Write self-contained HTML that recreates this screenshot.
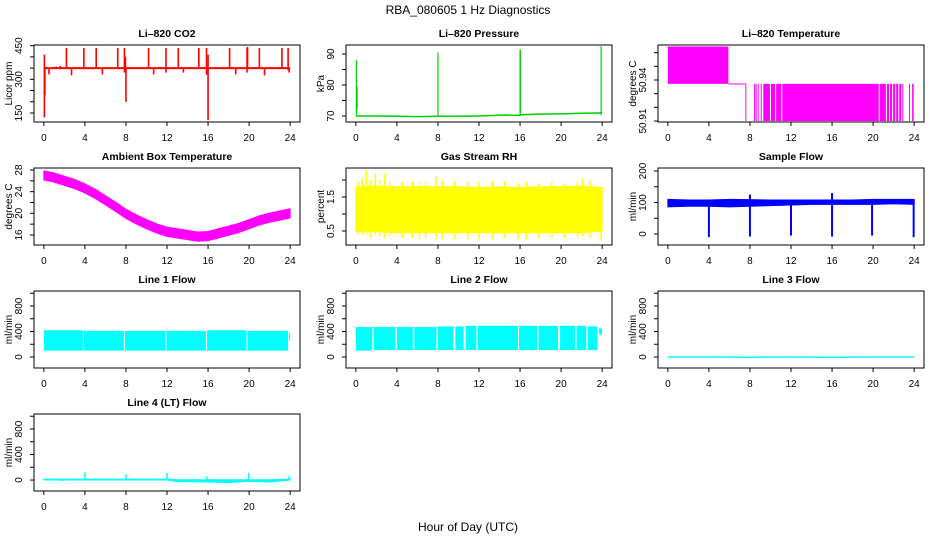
<!DOCTYPE html>
<html><head><meta charset="utf-8"><style>
html,body{margin:0;padding:0;background:#fff}
svg{display:block;font-family:"Liberation Sans",sans-serif}
</style></head><body>
<svg id="chart" width="936" height="540" viewBox="0 0 936 540" xmlns="http://www.w3.org/2000/svg">
<rect width="936" height="540" fill="#fff"/>
<text x="468" y="14" text-anchor="middle" font-size="12">RBA_080605  1 Hz Diagnostics</text>
<text x="468" y="531" text-anchor="middle" font-size="12">Hour of Day (UTC)</text>
</svg>
<script>
// ---- data ----
const xTicks = [0,4,8,12,16,20,24];
// CO2
const co2Base = 350;
const co2SpikeHours = [0.05,0.1,0.5,1.2,1.6,2.2,2.7,3.9,5.1,5.7,7.2,7.85,7.95,8.0,10.2,10.7,11.9,13.1,13.6,15.1,15.85,16.0,18.1,18.7,19.8,19.85,21.0,21.5,23.2,23.8,23.9];
const co2SpikeLow  = [130,230,322,350,350,350,318,345,350,322,350,330,330,200,350,322,330,350,330,350,320,118,350,322,330,350,350,318,350,340,330];
const co2SpikeHigh = [410,350,350,357,360,440,350,440,440,350,440,440,400,350,440,350,440,440,350,440,440,410,440,350,440,445,440,350,440,440,352];
// Pressure
const presHours = [0,2,4,6,8,10,12,14.5,15.9,16.1,18,20,22,24];
const presVals  = [70,70,69.9,69.8,69.9,69.9,70,70.3,70.2,70.4,70.6,70.7,70.9,71];
const presSpikeHours = [0.05,0.12,8.0,16.0,16.03,23.9];
const presSpikeLow  = [70,72,70,70,70,70.3];
const presSpikeHigh = [88,79.5,90.5,91.5,91.2,92.5];
// Li-820 Temperature blocks
const tempStart = [0,5.9,7.55,8.4,8.55,8.75,9.05,9.3,10.05,10.55,11.15,20.65,21.35,21.65,21.95,22.25,22.55,22.85,23.5,23.8];
const tempEnd   = [5.9,7.6,7.6,8.45,8.6,8.8,9.1,9.95,10.45,11.05,20.55,21.25,21.55,21.85,22.15,22.45,22.75,22.95,23.6,23.95];
const tempLow   = [50.9372,50.9368,50.91,50.91,50.91,50.91,50.91,50.91,50.91,50.91,50.91,50.91,50.91,50.91,50.91,50.91,50.91,50.91,50.91,50.91];
const tempHigh  = [50.9645,50.9375,50.9372,50.9372,50.9372,50.9372,50.9372,50.9372,50.9372,50.9372,50.9372,50.9372,50.9372,50.9372,50.9372,50.9372,50.9372,50.9372,50.9372,50.9372];
// Ambient box temperature
const ambHours = [0,1,2,3,4,5,6,7,8,9,10,11,12,13,14,15,16,17,18,19,20,21,22,23,24];
const ambMean  = [27,26.6,26,25.4,24.6,23.6,22.4,21.2,19.9,18.9,18,17.2,16.6,16.3,16,15.7,15.8,16.3,16.8,17.3,18,18.7,19.2,19.6,20];
const ambSpread = 0.85;
// Gas stream RH
const rhHours = [0,2,4,6,8,10,12,14,16,18,20,22,24];
const rhUpper = [1.8,1.82,1.8,1.8,1.8,1.8,1.78,1.8,1.78,1.8,1.8,1.82,1.78];
const rhLower = [0.5,0.48,0.45,0.45,0.45,0.45,0.45,0.45,0.45,0.45,0.45,0.45,0.5];
const rhSpikeHours = [0.2,0.6,1.0,1.4,1.9,2.3,2.8,3.3,4.5,5.5,6.2,6.8,7.8,8.4,9.6,10.9,12.0,13.3,14.5,15.8,16.6,17.8,19.1,20.3,21.6,22.1,22.8,23.9];
const rhSpikeTop = [1.95,2.05,2.3,2.0,2.2,2.0,2.2,1.95,1.95,1.95,1.95,1.95,2.1,2.0,1.95,1.95,1.95,1.95,1.95,1.9,1.95,1.9,1.95,1.9,1.95,2.05,2.0,1.8];
const rhSpikeBot = [0.4,0.4,0.4,0.3,0.4,0.35,0.3,0.35,0.3,0.3,0.25,0.3,0.25,0.25,0.25,0.25,0.25,0.25,0.3,0.25,0.25,0.3,0.3,0.3,0.3,0.35,0.3,0.2];
// Sample flow
const sampleHours = [0,2,4,6,8,10,12,14,16,18,20,22,24];
const sampleUpper = [110,108,108,110,109,108,108,108,108,108,110,110,110];
const sampleLower = [86,88,88,86,88,90,92,94,94,94,94,96,94];
const sampleDipHours = [4,8,12,16,19.9,23.95];
const sampleDipLow  = [-10,-8,-5,-8,-5,-10];
const sampleDipHigh = [100,125,105,130,110,105];
// Line 1 flow blocks
const l1Start = [0,3.9,7.9,11.95,15.9,19.85,23.9];
const l1End   = [3.8,7.8,11.85,15.8,19.75,23.8,24];
const l1Low   = [100,100,100,100,100,100,250];
const l1High  = [420,410,410,410,420,410,380];
// Line 2 flow blocks
const l2Start = [0,1.75,4.0,5.7,8.0,9.7,10.7,11.9,15.9,17.8,19.9,21.5,22.6,23.7];
const l2End   = [1.6,3.85,5.55,7.85,9.5,10.5,11.75,15.8,17.65,19.7,21.35,22.45,23.55,24];
const l2Low   = [100,110,110,110,110,110,110,110,110,110,110,110,110,350];
const l2High  = [470,470,470,470,480,480,490,490,490,490,490,490,480,450];
// Line 3 flow
const l3Hours = [0,4,8,12,16,20,24];
const l3Vals  = [0,0,-3,0,-3,0,0];
// Line 4 flow
const l4Hours = [0,4,8,12,13,16,18,20,22,24];
const l4Upper = [15,15,15,15,5,5,5,5,5,15];
const l4Lower = [0,0,0,0,-25,-30,-40,-20,-30,0];
const l4SpikeHours = [1.8,4.0,8.0,12.0,15.9,19.95,23.9];
const l4SpikeLow  = [-20,0,0,0,-20,-10,0];
const l4SpikeHigh = [0,120,90,110,60,110,70];

// ---- layout ----
const NS = "http://www.w3.org/2000/svg";
const svg = document.getElementById('chart');
const colX = [34,346,658], W = 266, H = 77;
function rowY(r){ return 45 + 123*r; }

function mk(tag, name, parent){
  const e = document.createElementNS(NS, tag);
  
  
  (parent || svg).appendChild(e);
  return e;
}

function panel(cfg){
  const x0 = colX[cfg.col], y0 = rowY(cfg.row);
  const g = mk('g', cfg.id + '-panel');
  const xs = h => x0 + (h + 0.96) / 25.92 * W;
  const ys = v => y0 + (cfg.ymax - v) / (cfg.ymax - cfg.ymin) * H;
  const clipId = 'clip-' + cfg.id;
  const cp = mk('clipPath', cfg.id + '-clip', g);
  cp.setAttribute('id', clipId);
  const cr = mk('rect', cfg.id + '-clip-rect', cp);
  cr.setAttribute('x', x0); cr.setAttribute('y', y0); cr.setAttribute('width', W); cr.setAttribute('height', H);
  const plot = mk('g', cfg.id + '-plot-area', g);
  plot.setAttribute('clip-path', 'url(#' + clipId + ')');
  const t = mk('text', cfg.id + '-title', g);
  t.setAttribute('x', x0 + W/2); t.setAttribute('y', y0 - 8);
  t.setAttribute('text-anchor', 'middle'); t.setAttribute('font-size', '10.5'); t.setAttribute('font-weight', 'bold');
  t.textContent = cfg.title;
  const yl = mk('text', cfg.id + '-y-axis-title', g);
  yl.setAttribute('transform', 'translate(' + (x0 - 22) + ',' + (y0 + H/2) + ') rotate(-90)');
  yl.setAttribute('text-anchor', 'middle'); yl.setAttribute('font-size', '10');
  yl.textContent = cfg.ylab;
  xTicks.forEach(h => {
    const l = mk('line', cfg.id + '-x-tick', g);
    l.setAttribute('x1', xs(h)); l.setAttribute('x2', xs(h));
    l.setAttribute('y1', y0 + H); l.setAttribute('y2', y0 + H + 4); l.setAttribute('stroke', '#000');
    const tx = mk('text', cfg.id + '-x-tick-label', g);
    tx.setAttribute('x', xs(h)); tx.setAttribute('y', y0 + H + 19);
    tx.setAttribute('text-anchor', 'middle'); tx.setAttribute('font-size', '10');
    tx.textContent = h;
  });
  cfg.yticks.forEach(v => {
    const l = mk('line', cfg.id + '-y-tick', g);
    l.setAttribute('x1', x0 - 4); l.setAttribute('x2', x0);
    l.setAttribute('y1', ys(v)); l.setAttribute('y2', ys(v)); l.setAttribute('stroke', '#000');
  });
  cfg.ylabels.forEach(v => {
    const tx = mk('text', cfg.id + '-y-tick-label', g);
    tx.setAttribute('transform', 'translate(' + (x0 - 12) + ',' + ys(v) + ') rotate(-90)');
    tx.setAttribute('text-anchor', 'middle'); tx.setAttribute('font-size', '10');
    tx.textContent = v;
  });
  cfg.draw(plot, xs, ys);
  const box = mk('rect', cfg.id + '-plot-frame', g);
  box.setAttribute('x', x0); box.setAttribute('y', y0); box.setAttribute('width', W); box.setAttribute('height', H);
  box.setAttribute('fill', 'none'); box.setAttribute('stroke', '#000');
}

function vseg(p, name, x, ya, yb, color, w){
  const l = mk('line', name, p);
  l.setAttribute('x1', x); l.setAttribute('x2', x);
  l.setAttribute('y1', ya); l.setAttribute('y2', yb);
  l.setAttribute('stroke', color); l.setAttribute('stroke-width', w);
}
function block(p, name, xa, xb, ya, yb, color){
  const r = mk('rect', name, p);
  r.setAttribute('x', Math.min(xa, xb)); r.setAttribute('width', Math.max(1, Math.abs(xb - xa)));
  r.setAttribute('y', Math.min(ya, yb)); r.setAttribute('height', Math.max(1, Math.abs(yb - ya)));
  r.setAttribute('fill', color);
}
function band(p, name, hours, up, lo, xs, ys, color){
  const pts = hours.map((h,i) => xs(h) + ',' + ys(up[i]))
    .concat(hours.slice().reverse().map((h,i) => xs(h) + ',' + ys(lo[hours.length-1-i])));
  const pg = mk('polygon', name, p);
  pg.setAttribute('points', pts.join(' '));
  pg.setAttribute('fill', color); pg.setAttribute('stroke', color);
}

panel({id:'co2', col:0, row:0, title:'Li\u2013820 CO2', ylab:'Licor ppm', ymin:110, ymax:453,
  yticks:[150,200,250,300,350,400,450], ylabels:[150,300,450],
  draw:(p,xs,ys)=>{
    const l = mk('line', 'co2-baseline', p);
    l.setAttribute('x1', xs(0.1)); l.setAttribute('x2', xs(24)); l.setAttribute('y1', ys(co2Base)); l.setAttribute('y2', ys(co2Base));
    l.setAttribute('stroke', '#ff0000'); l.setAttribute('stroke-width', 2);
    co2SpikeHours.forEach((h,i) => vseg(p, 'co2-spike', xs(h), ys(co2SpikeLow[i]), ys(co2SpikeHigh[i]), '#ff0000', 1.6));
  }});

panel({id:'pressure', col:1, row:0, title:'Li\u2013820 Pressure', ylab:'kPa', ymin:68.06, ymax:92.9,
  yticks:[70,75,80,85,90], ylabels:[70,80,90],
  draw:(p,xs,ys)=>{
    const pl = mk('polyline', 'pressure-line', p);
    pl.setAttribute('points', presHours.map((h,i) => xs(h) + ',' + ys(presVals[i])).join(' '));
    pl.setAttribute('fill', 'none'); pl.setAttribute('stroke', '#00d000'); pl.setAttribute('stroke-width', 1.5);
    presSpikeHours.forEach((h,i) => vseg(p, 'pressure-spike', xs(h), ys(presSpikeLow[i]), ys(presSpikeHigh[i]), '#00d000', 1.2));
  }});

panel({id:'li820-temp', col:2, row:0, title:'Li\u2013820 Temperature', ylab:'degrees C', ymin:50.9093, ymax:50.9656,
  yticks:[50.91,50.92,50.93,50.94,50.95,50.96], ylabels:['50.91','50.94'],
  draw:(p,xs,ys)=>{
    tempStart.forEach((s,i) => block(p, 'temp-block', xs(s), xs(tempEnd[i]), ys(tempLow[i]), ys(tempHigh[i]), '#ff00ff'));
  }});

panel({id:'ambient', col:0, row:1, title:'Ambient Box Temperature', ylab:'degrees C', ymin:14.15, ymax:28.37,
  yticks:[16,18,20,22,24,26,28], ylabels:[16,20,24,28],
  draw:(p,xs,ys)=>{
    band(p, 'ambient-band', ambHours, ambMean.map(v => v + ambSpread), ambMean.map(v => v - ambSpread), xs, ys, '#ff00ff');
  }});

panel({id:'rh', col:1, row:1, title:'Gas Stream RH', ylab:'percent', ymin:0.088, ymax:2.353,
  yticks:[0.5,1,1.5,2], ylabels:['0.5','1.5'],
  draw:(p,xs,ys)=>{
    band(p, 'rh-band', rhHours, rhUpper, rhLower, xs, ys, '#ffff00');
    rhSpikeHours.forEach((h,i) => vseg(p, 'rh-spike', xs(h), ys(rhSpikeBot[i]), ys(rhSpikeTop[i]), '#ffff00', 1.5));
  }});

panel({id:'sample-flow', col:2, row:1, title:'Sample Flow', ylab:'ml/min', ymin:-34.9, ymax:209.5,
  yticks:[0,50,100,150,200], ylabels:[0,100,200],
  draw:(p,xs,ys)=>{
    band(p, 'sample-band', sampleHours, sampleUpper, sampleLower, xs, ys, '#0000ff');
    sampleDipHours.forEach((h,i) => vseg(p, 'sample-dip', xs(h), ys(sampleDipLow[i]), ys(sampleDipHigh[i]), '#0000ff', 2));
  }});

const flowTicks = [0,200,400,600,800,1000], flowLabels = [0,400,800];
panel({id:'line1', col:0, row:2, title:'Line 1 Flow', ylab:'ml/min', ymin:-172, ymax:1035,
  yticks:flowTicks, ylabels:flowLabels,
  draw:(p,xs,ys)=>{
    l1Start.forEach((s,i) => block(p, 'line1-block', xs(s), xs(l1End[i]), ys(l1Low[i]), ys(l1High[i]), '#00ffff'));
  }});

panel({id:'line2', col:1, row:2, title:'Line 2 Flow', ylab:'ml/min', ymin:-172, ymax:1035,
  yticks:flowTicks, ylabels:flowLabels,
  draw:(p,xs,ys)=>{
    l2Start.forEach((s,i) => block(p, 'line2-block', xs(s), xs(l2End[i]), ys(l2Low[i]), ys(l2High[i]), '#00ffff'));
  }});

panel({id:'line3', col:2, row:2, title:'Line 3 Flow', ylab:'ml/min', ymin:-172, ymax:1035,
  yticks:flowTicks, ylabels:flowLabels,
  draw:(p,xs,ys)=>{
    const pl = mk('polyline', 'line3-line', p);
    pl.setAttribute('points', l3Hours.map((h,i) => xs(h) + ',' + ys(l3Vals[i])).join(' '));
    pl.setAttribute('fill', 'none'); pl.setAttribute('stroke', '#00ffff'); pl.setAttribute('stroke-width', 1.5);
  }});

panel({id:'line4', col:0, row:3, title:'Line 4 (LT) Flow', ylab:'ml/min', ymin:-172, ymax:1035,
  yticks:flowTicks, ylabels:flowLabels,
  draw:(p,xs,ys)=>{
    band(p, 'line4-band', l4Hours, l4Upper, l4Lower, xs, ys, '#00ffff');
    l4SpikeHours.forEach((h,i) => vseg(p, 'line4-spike', xs(h), ys(l4SpikeLow[i]), ys(l4SpikeHigh[i]), '#00ffff', 1.5));
  }});
</script>
</body></html>
